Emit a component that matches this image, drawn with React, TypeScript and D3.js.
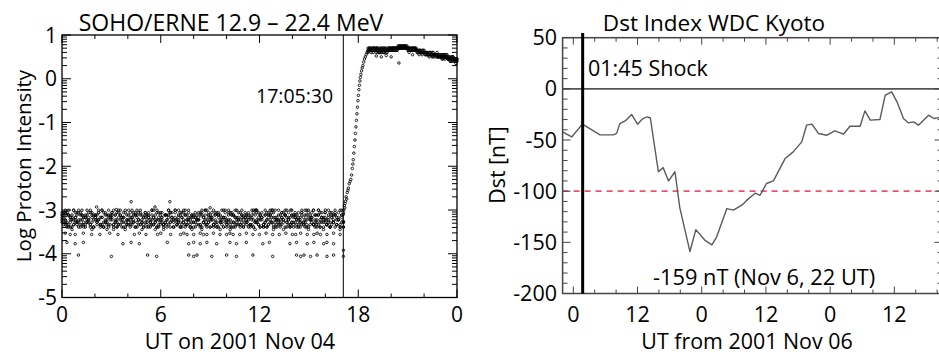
import * as React from 'react';
import * as d3 from 'd3';

// ---- SOHO/ERNE proton data (hours UT on Nov 04) ----
// quiet background band, one digit per sample, 0..17.1 h; value = -2.95 - d*0.055
const bgRows = [
  '3426153746 2517364825 3614725384 2736154827 3516247358 2637145826 4735162847 3625174836 2547361528 4736251847 3526174835 2647351628 4735261748 3625147836 2574361825 4736152847 3625174836',
  '5263748152 6374815263 4758162734 5162738495 6273815264 3748516273 5863724815 6372851463 4758261734 5162837465 6283715264 4738516273 5862734815 6372815463 4758263714 5183726465 6273845162',
  '2718364527 1836452738 4527183645 2738415267 1845362738 4526173845 2738164527 1846352738 4527163845 2738465127 1836452738 4527183645 2738416257 1845362738 4526178345 2738164527 1846352738',
  '4657385746 5738465748 3657486573 4865736485 5746385764 6385746587 4765384657 5846375846 6573845768 4857364856 5738465748 3657486573 4865736485 5746385764 6385746587 4765384657 5846375846',
  '6372849163 8254736198 5327486917 3958274613 7462835197 2846379152 6937425816 4281736594 8352947163 5728396418 2963847517 6384729158 4718352964 7529364817 3846275193 6157384927 4836275918',
];
const bgStart = 0;
const bgEnd = 17.1;

// quantised low-count rows
const row355 = [0.2, 0.5, 0.8, 1.3, 1.8, 2.3, 2.9, 3.4, 4.4, 4.7, 5.1, 5.8, 6.0, 6.6, 7.2, 7.4, 7.6, 8.0, 8.4, 8.6, 8.8, 9.2, 9.6, 10.0, 10.2, 10.4, 10.8, 11.2, 11.6, 12.0, 12.4, 12.8, 13.2, 13.6, 14.0, 14.2, 14.5, 14.9, 15.3, 15.5, 15.7, 16.1, 16.5, 16.9];
const row375 = [0.3, 0.8, 1.3, 3.7, 4.2, 4.7, 6.4, 7.7, 8.0, 8.4, 8.8, 9.4, 10.2, 10.6, 11.2, 12.2, 12.6, 13.85, 14.25, 14.9, 15.3, 15.9, 16.1, 16.5];
const row405 = [1.0, 3.0, 5.2, 5.75, 7.7, 8.0, 8.2, 9.1, 10.0, 10.6, 11.6, 12.8, 14.25, 14.5, 14.7, 15.1, 15.5, 16.1, 16.5, 17.1];
const bgHigh: [number, number][] = [
  [4.2, -2.81], [6.55, -2.81], [2.1, -2.93], [3.3, -2.99], [5.65, -2.93], [9.0, -2.95], [11.8, -3.0], [12.8, -3.0], [13.9, -3.0], [16.0, -3.0],
];

// onset of the event
const rise: [number, number][] = [
  [17.08, -3.25], [17.1, -3.1], [17.12, -3.0], [17.15, -2.9], [17.18, -2.95], [17.2, -2.85], [17.23, -2.8], [17.26, -2.7],
  [17.3, -2.75], [17.33, -2.6], [17.37, -2.55], [17.4, -2.5], [17.45, -2.4], [17.5, -2.35], [17.55, -2.3], [17.6, -2.2],
  [17.64, -2.05], [17.67, -1.95], [17.7, -1.85], [17.73, -1.7], [17.76, -1.55], [17.8, -1.4], [17.83, -1.25], [17.86, -1.1],
  [17.89, -0.95], [17.92, -0.8], [17.95, -0.65], [17.98, -0.5], [18.01, -0.38], [18.04, -0.25], [18.07, -0.15], [18.1, -0.05],
  [18.13, 0.03], [18.16, 0.1], [18.2, 0.18], [18.24, 0.25], [18.28, 0.3], [18.33, 0.38], [18.38, 0.45], [18.43, 0.5],
  [18.48, 0.55], [18.53, 0.6], [18.58, 0.63],
];

// plateau, one digit per sample from 18.6 to 24 h; value = 0.3 + d*0.05
const platRows = [
  '7887878788 7678786877 7887878878 8989898988 7878787877 6766576656 5565465554 4545354544 3424343323',
  '8786787868 8767876786 8787888787 9898989898 8787878786 7676767656 5656545556 4544535445 3432342312',
  '6777868777 6686768767 7878787887 8898898989 7687787877 6576666566 5465565455 4454444354 3332423223',
];
const platStart = 18.6;
const platEnd = 24;
const platLow: [number, number][] = [[19.1, 0.52], [19.4, 0.5], [19.7, 0.53], [20.0, 0.5], [20.47, 0.36], [21.3, 0.55]];

const shockTime = 17.0917;

// ---- Dst (hours from 2001 Nov 06 00 UT) ----
const dstHours = [
  -2, -0.3, 1.7, 5.0, 7.5, 8.1, 8.7, 9.7, 10.9, 12.0, 13.0, 13.8, 14.4, 15.9, 16.8, 17.8, 19.0, 19.9, 21.8, 22.9, 24.6,
  25.9, 26.8, 28.7, 29.9, 31.5, 32.4, 33.3, 34.0, 34.9, 36.1, 37.4, 39.6, 41.1, 42.7, 43.6, 44.6, 45.8, 47.4, 48.9,
  50.5, 51.7, 53.6, 54.5, 55.5, 57.3, 58.3, 59.5, 60.5, 61.7, 62.6, 63.6, 64.5, 66.4, 67.4, 68.5,
];
const dstValues = [
  -42, -47, -34.5, -45, -45, -43.5, -34, -31.3, -25, -34.5, -29, -27.4, -28.5, -81, -77, -90, -81, -116, -159, -137.6, -148,
  -152.5, -144.6, -117, -118.5, -113.7, -109, -105, -102, -104, -92.5, -90, -68, -61.6, -51.8, -35.5, -34.5, -43.6, -45.3, -41,
  -44.3, -36.5, -36.5, -21.5, -30.6, -30, -6.2, -3, -12.7, -29, -33.2, -32.3, -35.5, -25.7, -29, -28,
];
const dstShock = 1.75;
const stormLevel = -100;

const FONT = "'Open Sans', sans-serif";

function digits(s: string) {
  return s.replace(/\s/g, '').split('').map(Number);
}

export default function App() {
  // left panel
  const xL = d3.scaleLinear().domain([0, 24]).range([62, 457]);
  const yL = d3.scaleLinear().domain([-5, 1]).range([297.5, 35]);

  const pts: [number, number][] = [];
  bgRows.forEach((r) => {
    const ds = digits(r);
    const step = (bgEnd - bgStart) / (ds.length - 1);
    ds.forEach((d, i) => pts.push([bgStart + i * step, -2.95 - d * 0.055]));
  });
  row355.forEach((t, i) => pts.push([t, i % 3 === 0 ? -3.53 : -3.56]));
  row375.forEach((t, i) => pts.push([t, i % 2 === 0 ? -3.74 : -3.77]));
  row405.forEach((t, i) => pts.push([t, i % 2 === 0 ? -4.03 : -4.06]));
  bgHigh.forEach((p) => pts.push(p));
  rise.forEach((p) => pts.push(p));
  pts.push([17.1, -3.92]);
  platRows.forEach((r) => {
    const ds = digits(r);
    const step = (platEnd - platStart) / (ds.length - 1);
    ds.forEach((d, i) => pts.push([platStart + i * step, 0.3 + d * 0.05]));
  });
  platLow.forEach((p) => pts.push(p));

  const xTicksL = d3.range(0, 25, 2);
  const yMajorL = d3.range(-5, 2, 1);
  const yMinorL: number[] = [];
  for (let dd = -5; dd < 1; dd++) for (let k = 2; k <= 9; k++) yMinorL.push(dd + Math.log10(k));

  // right panel
  const xR = d3.scaleLinear().domain([-2, 69]).range([562.6, 942.5]);
  const yR = d3.scaleLinear().domain([-200, 50]).range([293.5, 37.7]);
  const dstLine = d3.line<number>().x((_, i) => xR(dstHours[i])).y((d) => yR(d));
  const xTicksR = d3.range(0, 69, 4);
  const yTicksR = d3.range(-200, 51, 10);

  const [l, r, t, b] = [xL(0), xL(24), yL(1), yL(-5)];
  const [rl, rr, rt, rb] = [xR(-2), xR(69), yR(50), yR(-200)];
  const axR = '#444';

  return (
    <svg width={939} height={355} style={{ position: 'absolute', left: 0, top: 0, background: '#fff' }} fontFamily={FONT}>
      {/* ---------- left: SOHO/ERNE ---------- */}
      <text x={231} y={31} fontSize={23} textAnchor="middle">SOHO/ERNE 12.9 – 22.4 MeV</text>
      <g stroke="#000" fill="none" strokeWidth={0.85}>
        {pts.map((p, i) => (
          <circle key={i} cx={xL(p[0])} cy={yL(p[1])} r={1.25} />
        ))}
      </g>
      <line x1={xL(shockTime)} x2={xL(shockTime)} y1={t} y2={b} stroke="#000" strokeWidth={1} />
      <text x={256} y={103} fontSize={19.5}>17:05:30</text>
      <g stroke="#000" strokeWidth={1}>
        {xTicksL.map((h) => {
          const len = h % 6 === 0 ? 8 : 4;
          return (
            <g key={h}>
              <line x1={xL(h)} x2={xL(h)} y1={b} y2={b - len} />
              <line x1={xL(h)} x2={xL(h)} y1={t} y2={t + len} />
            </g>
          );
        })}
        {yMajorL.map((v) => (
          <g key={v}>
            <line x1={l} x2={l + 9} y1={yL(v)} y2={yL(v)} />
            <line x1={r} x2={r - 9} y1={yL(v)} y2={yL(v)} />
          </g>
        ))}
        {yMinorL.map((v, i) => (
          <g key={i}>
            <line x1={l} x2={l + 5} y1={yL(v)} y2={yL(v)} />
            <line x1={r} x2={r - 5} y1={yL(v)} y2={yL(v)} />
          </g>
        ))}
      </g>
      <rect x={l} y={t} width={r - l} height={b - t} fill="none" stroke="#000" strokeWidth={1.3} />
      <g fontSize={21} fill="#000">
        {yMajorL.map((v) => (
          <text key={v} x={57} y={yL(v) + 7.5} textAnchor="end">{v}</text>
        ))}
        {xTicksL.filter((h) => h % 6 === 0).map((h) => (
          <text key={h} x={xL(h)} y={322} textAnchor="middle">{h % 24}</text>
        ))}
      </g>
      <text x={240} y={349} fontSize={21.6} textAnchor="middle">UT on 2001 Nov 04</text>
      <text transform="translate(31,166) rotate(-90)" fontSize={20.5} textAnchor="middle">Log Proton Intensity</text>

      {/* ---------- right: Dst ---------- */}
      <text x={714} y={31} fontSize={22.5} textAnchor="middle">Dst Index WDC Kyoto</text>
      <line x1={rl} x2={rr} y1={yR(0)} y2={yR(0)} stroke="#555" strokeWidth={1.6} />
      <line x1={rl} x2={rr} y1={yR(stormLevel)} y2={yR(stormLevel)} stroke="#ee5070" strokeWidth={1.8} strokeDasharray="6,5" />
      <path d={dstLine(dstValues) || ''} fill="none" stroke="#5a5a5a" strokeWidth={1.4} strokeLinejoin="round" />
      <g stroke={axR} strokeWidth={1}>
        {xTicksR.map((h) => {
          const len = h % 12 === 0 ? 7 : 4;
          return (
            <g key={h}>
              <line x1={xR(h)} x2={xR(h)} y1={rb} y2={rb - len} />
              <line x1={xR(h)} x2={xR(h)} y1={rt} y2={rt + len} />
            </g>
          );
        })}
        {yTicksR.map((v) => {
          const len = v % 50 === 0 ? 8 : 5;
          return (
            <g key={v}>
              <line x1={rl} x2={rl + len} y1={yR(v)} y2={yR(v)} />
              <line x1={rr} x2={rr - len} y1={yR(v)} y2={yR(v)} />
            </g>
          );
        })}
      </g>
      <rect x={rl} y={rt} width={rr - rl} height={rb - rt} fill="none" stroke={axR} strokeWidth={1.5} />
      <line x1={xR(dstShock)} x2={xR(dstShock)} y1={33} y2={rb} stroke="#000" strokeWidth={3} />
      <text x={588} y={76} fontSize={21.5}>01:45 Shock</text>
      <text x={653} y={285} fontSize={21.8}>-159 nT (Nov 6, 22 UT)</text>
      <g fontSize={21.5} fill="#000">
        {yTicksR.filter((v) => v % 50 === 0).map((v) => (
          <text key={v} x={557} y={yR(v) + 7.5} textAnchor="end">{v}</text>
        ))}
        {xTicksR.filter((h) => h % 12 === 0).map((h) => (
          <text key={h} x={xR(h)} y={322} textAnchor="middle">{h % 24}</text>
        ))}
      </g>
      <text x={747} y={349} fontSize={21.4} textAnchor="middle">UT from 2001 Nov 06</text>
      <text transform="translate(505,165) rotate(-90)" fontSize={21.3} textAnchor="middle">Dst [nT]</text>
    </svg>
  );
}
